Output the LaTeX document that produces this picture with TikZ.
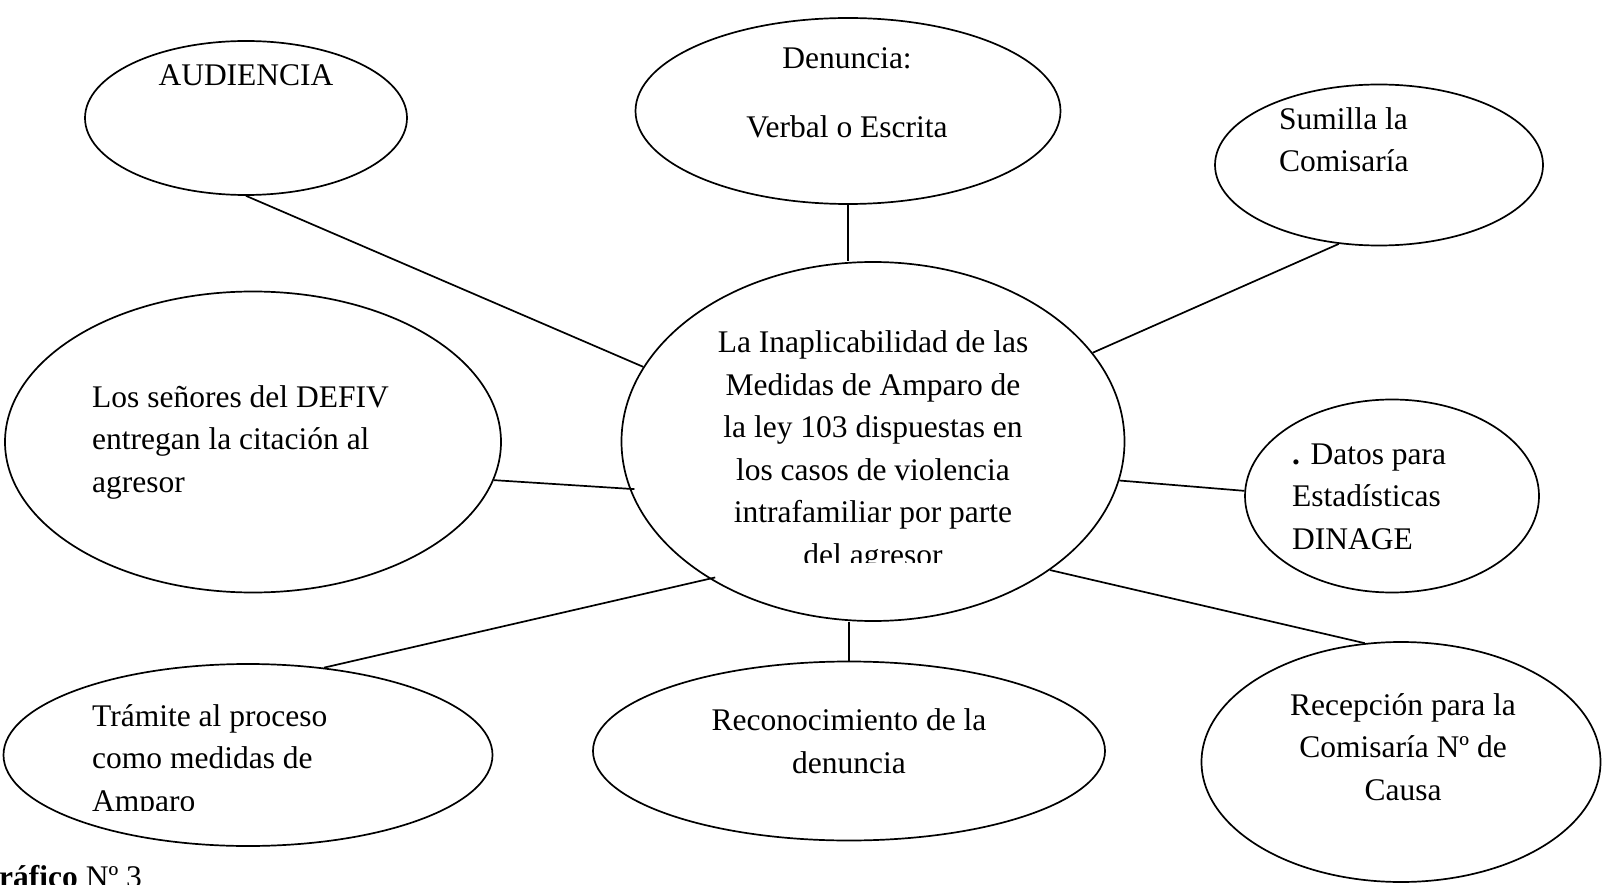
\documentclass[tikz,border=0pt]{standalone}
\usepackage{fontspec}
\setmainfont{Liberation Serif}
\usetikzlibrary{shapes.geometric}
\tikzset{
  bubble/.style={draw,ellipse,line width=1.7pt,inner sep=0pt},
  words/.style={inner sep=0pt,font=\fontsize{31.5}{42.5}\selectfont},
  spoke/.style={line width=1.7pt}
}
\begin{document}
\begin{tikzpicture}[x=1pt,y=-1pt]
\useasboundingbox (0,0) rectangle (1604,885);

% The bubbles
\node (centro) at (873,441.5) [bubble,minimum width=503pt,minimum height=359pt] {};
\node (audiencia) at (246,118) [bubble,minimum width=322pt,minimum height=154pt] {};
\node (denuncia) at (848,111) [bubble,minimum width=425pt,minimum height=186pt] {};
\node (sumilla) at (1379,165) [bubble,minimum width=328pt,minimum height=161pt] {};
\node (defiv) at (253,442) [bubble,minimum width=496pt,minimum height=301pt] {};
\node (datos) at (1392,496) [bubble,minimum width=294pt,minimum height=193pt] {};
\node (tramite) at (248,755) [bubble,minimum width=489pt,minimum height=182pt] {};
\node (reconoc) at (849,751) [bubble,minimum width=512pt,minimum height=179pt] {};
\node (recepcion) at (1401,762) [bubble,minimum width=399pt,minimum height=240pt] {};

% The texts (base = last line)
\node (audtext) at (246,86) [words,anchor=base] {AUDIENCIA};
\node (dentext) at (847,138) [words,anchor=base,align=center] {Denuncia:\\[26.5pt]Verbal o Escrita};
\node (sumtext) at (1279,172) [words,anchor=base west,align=left] {Sumilla la\\Comisaría};
\node (defivtext) at (92,492) [words,anchor=base west,align=left] {Los señores del DEFIV\\entregan la citación al\\agresor};
\node (datostext) at (1292,549) [words,anchor=base west,align=left] {\textbf{.} Datos para\\Estadísticas\\DINAGE};
\node (recontext) at (849,773) [words,anchor=base,align=center] {Reconocimiento de la\\denuncia};
\node (recepctext) at (1403,800) [words,anchor=base,align=center] {Recepción para la\\Comisaría Nº de\\Causa};
\begin{scope}
\clip (600,280) rectangle (1150,562);
\node (centext) at (873,565) [words,anchor=base,align=center] {La Inaplicabilidad de las\\Medidas de Amparo de\\la ley 103 dispuestas en\\los casos de violencia\\intrafamiliar por parte\\del agresor};
\end{scope}
\begin{scope}
\clip (60,680) rectangle (480,810);
\node (tratext) at (92,811) [words,anchor=base west,align=left] {Trámite al proceso\\como medidas de\\Amparo};
\end{scope}
\node (caption) at (-1,887) [words,anchor=base west] {\textbf{ráfico} Nº 3};

% spokes to the centre
\draw[spoke] (audiencia.south) -- (centro.162);
\draw[spoke] (denuncia.south) -- (denuncia.south |- centro.north);
\draw[spoke] (sumilla.243) -- (centro.22);
\draw[spoke,shorten >=-5pt] (defiv.-9) -- (centro.191);
\draw[spoke] (centro.-9) -- (datos.178);
\draw[spoke,shorten >=-6pt] (tramite.49) -- (centro.220);
\draw[spoke] (reconoc.north) -- (reconoc.north |- centro.south);
\draw[spoke] (centro.-36) -- (recepcion.107);

\end{tikzpicture}
\end{document}
